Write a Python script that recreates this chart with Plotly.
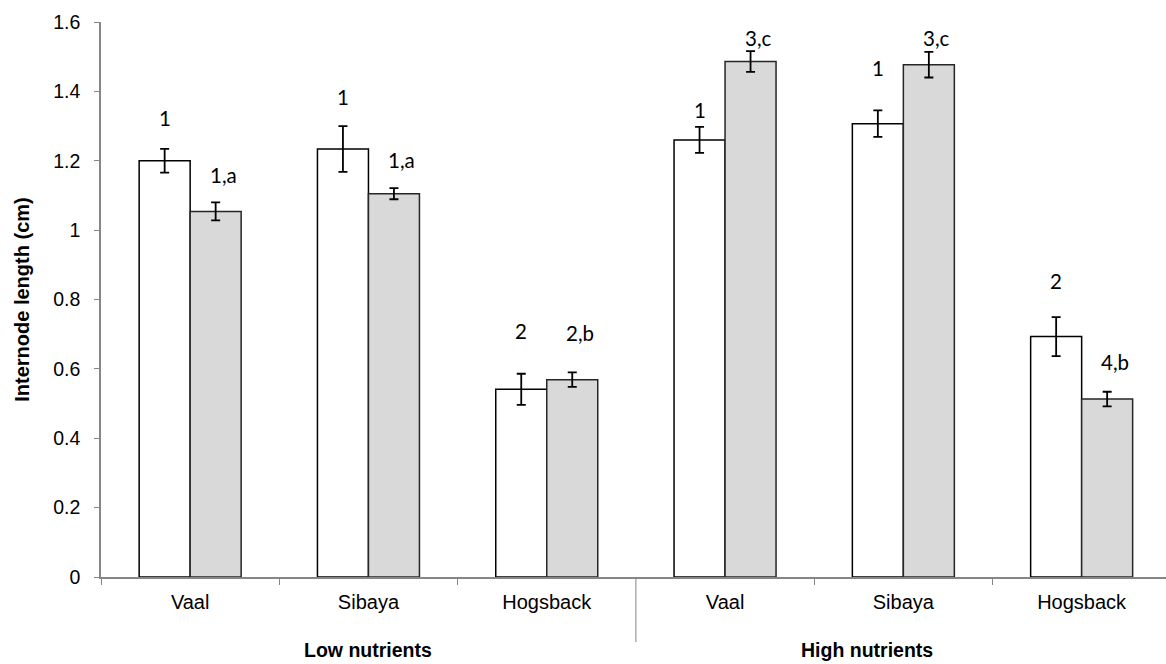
import plotly.graph_objects as go

# ---------------- data ----------------
categories = ["Vaal", "Sibaya", "Hogsback", "Vaal", "Sibaya", "Hogsback"]
groups = ["Low nutrients", "High nutrients"]

white_vals = [1.200, 1.234, 0.541, 1.260, 1.307, 0.693]
white_err = [0.034, 0.066, 0.045, 0.0375, 0.038, 0.056]
gray_vals = [1.054, 1.105, 0.569, 1.486, 1.477, 0.513]
gray_err = [0.026, 0.016, 0.021, 0.030, 0.037, 0.021]

white_labels = ["1", "1", "2", "1", "1", "2"]
gray_labels = ["1,a", "1,a", "2,b", "3,c", "3,c", "4,b"]

y_ticks = [0, 0.2, 0.4, 0.6, 0.8, 1.0, 1.2, 1.4, 1.6]
y_ticktext = ["0", "0.2", "0.4", "0.6", "0.8", "1", "1.2", "1.4", "1.6"]

# ---------------- layout / placement ----------------
white_label_y = [1.322, 1.384, 0.708, 1.345, 1.467, 0.852]
gray_label_y = [1.159, 1.203, 0.704, 1.555, 1.555, 0.621]
group_label_x = [1.0, 3.796]

x = list(range(len(categories)))

W, H = 1166, 664
ML, MR, MT, MB = 101, 0, 22, 87
cat_px = 178.3
bar_px = 51
plot_w = W - ML - MR
half = bar_px / cat_px / 2

fig = go.Figure()
fig.add_trace(go.Bar(
    x=x, y=white_vals, name="white",
    marker=dict(color="#ffffff", line=dict(color="#000000", width=1.5)),
    error_y=dict(type="data", array=white_err, color="#000000", thickness=1.8, width=4.5),
    showlegend=False,
))
fig.add_trace(go.Bar(
    x=x, y=gray_vals, name="gray",
    marker=dict(color="#d9d9d9", line=dict(color="#262626", width=1.5)),
    error_y=dict(type="data", array=gray_err, color="#000000", thickness=1.8, width=4.5),
    showlegend=False,
))

label_font = dict(family="Lato, Open Sans, sans-serif", size=20.5, color="#000000")
for i in range(len(categories)):
    fig.add_annotation(x=x[i] - half, y=white_label_y[i], text=white_labels[i],
                       showarrow=False, xanchor="center", yanchor="middle", font=label_font)
    fig.add_annotation(x=x[i] + half, y=gray_label_y[i], text=gray_labels[i],
                       showarrow=False, xanchor="center", yanchor="middle", xshift=8, font=label_font)

for g, c in zip(groups, group_label_x):
    fig.add_annotation(x=c, y=-0.1315, xref="x", yref="paper", text="<b>" + g + "</b>",
                       showarrow=False, xanchor="center", yanchor="middle",
                       font=dict(family="Liberation Sans, Arial, sans-serif", size=19.5, color="#000000"))

fig.add_shape(type="line", xref="x", yref="paper", x0=2.5, x1=2.5, y0=0, y1=-0.1171,
              line=dict(color="#868686", width=1))

fig.update_layout(
    width=W, height=H,
    margin=dict(l=ML, r=MR, t=MT, b=MB, pad=0),
    paper_bgcolor="white", plot_bgcolor="white",
    barmode="group", bargap=1 - 2 * bar_px / cat_px, bargroupgap=0,
    font=dict(family="Liberation Sans, Arial, sans-serif", size=20, color="#000000"),
    xaxis=dict(
        range=[-0.5, -0.5 + plot_w / cat_px],
        tickmode="array", tickvals=x, ticktext=categories,
        ticks="", showgrid=False, zeroline=False,
        showline=True, linecolor="#868686", linewidth=1.5,
        tickfont=dict(size=20),
        ticklabelstandoff=6,
        minor=dict(tickmode="array", tickvals=[-0.5, 0.5, 1.5, 3.5, 4.5],
                   ticks="outside", ticklen=6, tickcolor="#868686", tickwidth=1, showgrid=False),
    ),
    yaxis=dict(
        range=[0, 1.6],
        tickmode="array", tickvals=y_ticks, ticktext=y_ticktext,
        ticks="outside", ticklen=5, tickcolor="#868686", tickwidth=1,
        showgrid=False, zeroline=False,
        showline=True, linecolor="#868686", linewidth=1.5,
        tickfont=dict(size=19.5),
        ticklabelstandoff=10,
        title=dict(text="<b>Internode length (cm)</b>", font=dict(size=20), standoff=18),
    ),
)

fig.write_html("out.html")
